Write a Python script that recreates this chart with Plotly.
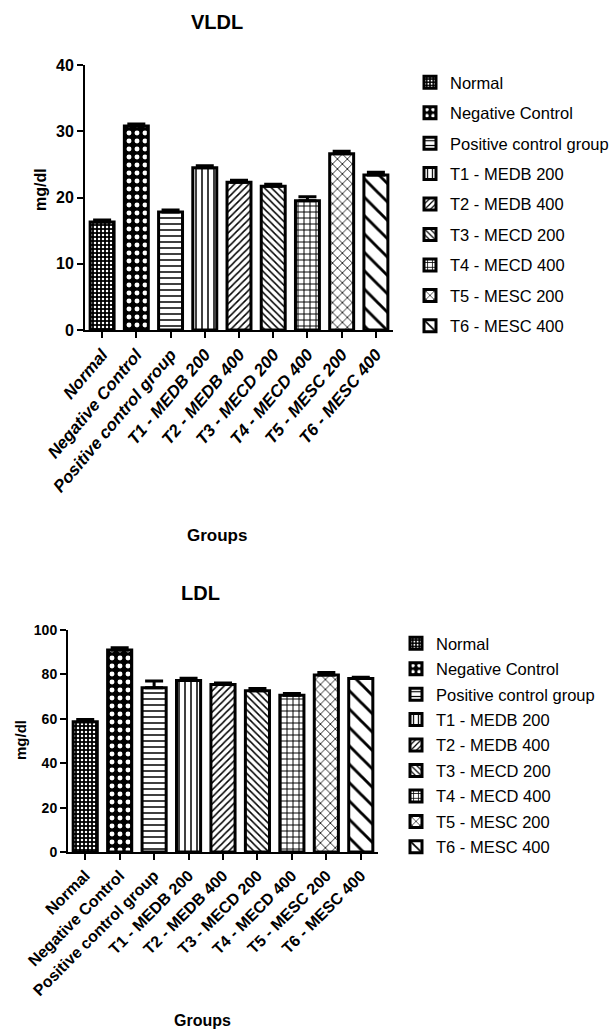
import plotly.graph_objects as go

groups = ["Normal", "Negative Control", "Positive control group", "T1 - MEDB 200",
          "T2 - MEDB 400", "T3 - MECD 200", "T4 - MECD 400", "T5 - MESC 200", "T6 - MESC 400"]
vldl_mean = [16.3, 30.8, 17.8, 24.5, 22.3, 21.7, 19.5, 26.6, 23.4]
vldl_err = [0.3, 0.3, 0.3, 0.3, 0.3, 0.3, 0.6, 0.4, 0.4]
ldl_mean = [58.7, 91.0, 74.0, 77.3, 75.5, 72.6, 70.6, 79.7, 78.2]
ldl_err = [1.0, 1.0, 3.0, 1.0, 0.6, 1.0, 0.8, 1.2, 0.5]

# pattern styles: (shape, fg, bg, size, solidity)
patterns = [
    (".", "white", "black", 4, 0.3),
    (".", "white", "black", 8, 0.3),
    ("-", "black", "white", 6, 0.25),
    ("|", "black", "white", 6, 0.25),
    ("/", "black", "white", 5, 0.3),
    ("\\", "black", "white", 5, 0.3),
    ("+", "black", "white", 6, 0.3),
    ("x", "black", "white", 7, 0.22),
    ("\\", "black", "white", 13, 0.22),
]

FONT = "Liberation Sans, Arial, sans-serif"

fig = go.Figure()

def add_chart(means, errs, xa, ya, legend, suffix):
    for i, g in enumerate(groups):
        shp, fg, bg, sz, sol = patterns[i]
        fig.add_trace(go.Bar(
            x=[g], y=[means[i]], name=g,
            xaxis=xa, yaxis=ya, legend=legend,
            legendgroup=g + suffix,
            width=0.7,
            marker=dict(color="white", line=dict(color="black", width=3),
                        pattern=dict(shape=shp, fgcolor=fg, bgcolor=bg, size=sz,
                                     solidity=sol, fillmode="replace")),
            error_y=dict(type="data", symmetric=False, array=[errs[i]], arrayminus=[0],
                         color="black", thickness=3, width=9),
        ))

add_chart(vldl_mean, vldl_err, "x", "y", "legend", "a")
add_chart(ldl_mean, ldl_err, "x2", "y2", "legend2", "b")

W, H = 614, 1032

def px(v):
    return v / W

def py(v):
    return 1 - v / H

axis_common = dict(showline=True, linecolor="black", linewidth=2, ticks="outside",
                   ticklen=6, tickwidth=2, tickcolor="black", showgrid=False,
                   zeroline=False, mirror=False, automargin=False)

fig.update_layout(
    width=W, height=H, margin=dict(l=0, r=0, t=0, b=0, pad=0, autoexpand=False),
    plot_bgcolor="white", paper_bgcolor="white",
    barmode="overlay", showlegend=True,
    font=dict(family=FONT, color="black"),
    xaxis=dict(domain=[px(85), px(393)], anchor="y", type="category",
               categoryorder="array", categoryarray=groups, range=[-0.5, 8.5],
               tickangle=-50,
               tickfont=dict(size=17, weight="bold", style="italic", family=FONT),
               **axis_common),
    yaxis=dict(domain=[py(330), py(65)], anchor="x", range=[0, 40],
               tickvals=[0, 10, 20, 30, 40],
               tickfont=dict(size=16, weight="bold", family=FONT), **axis_common),
    xaxis2=dict(domain=[px(68), px(378)], anchor="y2", type="category",
                categoryorder="array", categoryarray=groups, range=[-0.5, 8.5],
                tickangle=-45,
                tickfont=dict(size=16, weight="bold", family=FONT),
                **axis_common),
    yaxis2=dict(domain=[py(852), py(630)], anchor="x2", range=[0, 100],
                tickvals=[0, 20, 40, 60, 80, 100],
                tickfont=dict(size=14, weight="bold", family=FONT), **axis_common),
    legend=dict(x=px(410), y=py(65), xanchor="left", yanchor="top",
                font=dict(size=16.5, family=FONT), tracegroupgap=6,
                bgcolor="rgba(0,0,0,0)"),
    legend2=dict(x=px(396), y=py(626), xanchor="left", yanchor="top",
                 font=dict(size=16.5, family=FONT), tracegroupgap=1,
                 bgcolor="rgba(0,0,0,0)"),
    annotations=[
        dict(text="<b>VLDL</b>", x=px(217), y=py(22), xref="paper", yref="paper",
             xanchor="center", yanchor="middle",
             showarrow=False, font=dict(size=20, family=FONT)),
        dict(text="<b>mg/dl</b>", x=px(40), y=py(190), xref="paper", yref="paper",
             xanchor="center", yanchor="middle",
             showarrow=False, textangle=-90, font=dict(size=16, family=FONT)),
        dict(text="<b>Groups</b>", x=px(217), y=py(535), xref="paper", yref="paper",
             xanchor="center", yanchor="middle",
             showarrow=False, font=dict(size=17, family=FONT)),
        dict(text="<b>LDL</b>", x=px(200), y=py(593), xref="paper", yref="paper",
             xanchor="center", yanchor="middle",
             showarrow=False, font=dict(size=20, family=FONT)),
        dict(text="<b>mg/dl</b>", x=px(20), y=py(740), xref="paper", yref="paper",
             xanchor="center", yanchor="middle",
             showarrow=False, textangle=-90, font=dict(size=15, family=FONT)),
        dict(text="<b>Groups</b>", x=px(202), y=py(1020), xref="paper", yref="paper",
             xanchor="center", yanchor="middle",
             showarrow=False, font=dict(size=16, family=FONT)),
    ],
)

fig.write_html("out.html", config={"displayModeBar": False},
               post_script="document.body.style.margin='0';document.body.style.overflow='hidden';")
